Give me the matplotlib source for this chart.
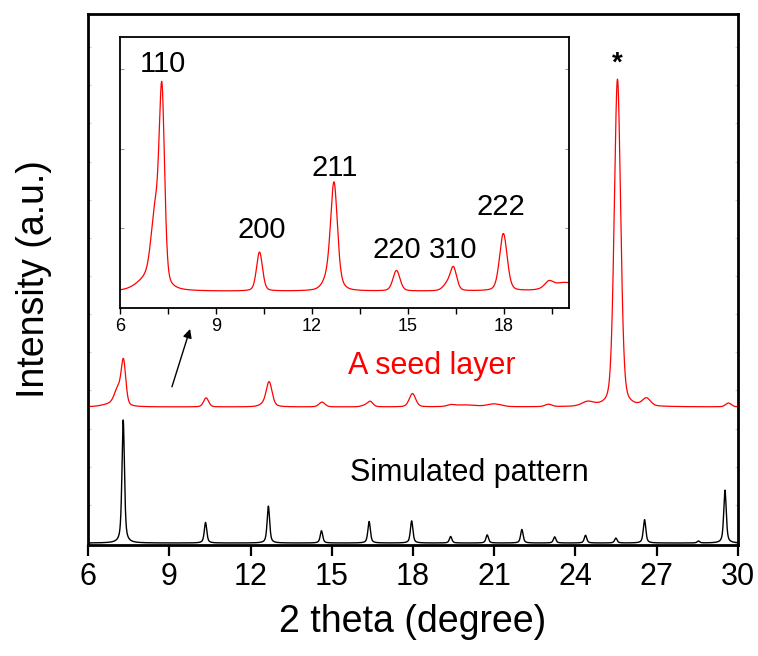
import numpy as np
import matplotlib
matplotlib.use("Agg")
import matplotlib.pyplot as plt
from matplotlib.ticker import MultipleLocator

plt.rcParams["font.family"] = ["Liberation Sans", "DejaVu Sans"]

# Simulated pattern: peak positions (2 theta) and relative intensities (110 = 100)
sim_pos = [7.30, 10.34, 12.66, 14.62, 16.38, 17.95, 19.39, 20.74, 22.02,
           23.23, 24.37, 25.49, 26.55, 28.54, 29.52]
sim_int = [100, 16.7, 30, 10, 17.5, 18, 5.3, 6.6, 11, 5, 6.3, 4, 19, 1.6, 43]
sim_fwhm = 0.11

# Seed layer pattern: peak positions, heights (110 = 100) and widths
seed_pos = [6.90, 7.10, 7.31, 10.36, 12.62, 12.69, 14.64, 16.22, 16.42,
            17.98, 19.40, 19.90, 21.00, 23.00, 24.45, 25.55, 26.62, 29.65]
seed_int = [6, 32, 90, 19, 10, 44, 10, 3, 11, 28, 3, 4, 6, 5, 9, 690, 16, 8]
seed_fwhm = [0.80, 0.30, 0.20, 0.22, 0.45, 0.24, 0.26, 0.30, 0.24,
             0.28, 0.30, 1.00, 0.60, 0.30, 0.50, 0.28, 0.35, 0.25]

# Miller indices labelled in the inset
hkl_labels = ["110", "200", "211", "220", "310", "222"]
hkl_pos = [7.35, 10.42, 12.71, 14.66, 16.41, 17.91]
hkl_y = [111, 30, 60, 20, 20, 41]


def pseudo_voigt(x, pos, height, fwhm, eta):
    d = (x - pos) / (fwhm / 2)
    lor = 1 / (1 + d ** 2)
    gau = np.exp(-np.log(2) * d ** 2)
    return height * (eta * lor + (1 - eta) * gau)


def pattern(x, positions, heights, widths, eta):
    if np.isscalar(widths):
        widths = [widths] * len(positions)
    y = np.zeros_like(x)
    for p, h, w in zip(positions, heights, widths):
        y += pseudo_voigt(x, p, h, w, eta)
    return y


tt = np.linspace(6, 30, 6001)
sim = pattern(tt, sim_pos, sim_int, sim_fwhm, 0.6) * 0.01
seed = pattern(tt, seed_pos, seed_int, seed_fwhm, 0.3)
seed_offset = 1.106
seed_scale = 0.00386

fig = plt.figure(figsize=(7.58, 6.56), dpi=100)
ax = fig.add_axes([0.1161, 0.1692, 0.8575, 0.8095])

ax.plot(tt, sim, color="black", lw=1.0)
ax.plot(tt, seed_offset + seed * seed_scale, color="red", lw=0.9)

ax.set_xlim(6, 30)
ax.set_ylim(-0.016, 4.30)
ax.xaxis.set_major_locator(MultipleLocator(3))
ax.yaxis.set_major_locator(MultipleLocator(0.31))
ax.tick_params(axis="x", direction="out", length=8, width=1.6,
               labelsize=22, pad=4, top=False)
ax.tick_params(axis="y", direction="in", length=2.5, width=0.8,
               colors="0.8", left=True, right=True, labelleft=False)
for s in ax.spines.values():
    s.set_linewidth(2.0)
ax.set_xlabel("2 theta (degree)", fontsize=27, labelpad=9)
ax.set_ylabel("Intensity (a.u.)", fontsize=27, labelpad=26)

ax.text(18.7, 1.44, "A seed layer", color="red", fontsize=22,
        ha="center", va="center")
ax.text(20.1, 0.57, "Simulated pattern", color="black", fontsize=22,
        ha="center", va="center")
ax.text(25.55, 3.90, "*", fontsize=20, fontweight="bold",
        ha="center", va="center")
ax.annotate("", xy=(9.77, 1.74), xytext=(9.10, 1.27),
            arrowprops=dict(arrowstyle="-|>", color="black", lw=1.0,
                            mutation_scale=13, shrinkA=0, shrinkB=0))

# Inset: low-angle region of the seed layer
ins = fig.add_axes([0.1583, 0.5305, 0.5923, 0.4131])
ins.plot(tt, seed, color="red", lw=0.9)
ins.set_xlim(6, 20.03)
ins.set_ylim(-8.1, 124)
ins.xaxis.set_major_locator(MultipleLocator(3))
ins.xaxis.set_minor_locator(MultipleLocator(1.5))
ins.set_yticks([30.8, 69.6, 108.5])
ins.tick_params(axis="x", which="both", direction="out", length=4,
                width=1.0, labelsize=13, pad=3)
ins.tick_params(axis="y", direction="in", length=3, width=0.8,
                colors="0.6", left=True, right=True, labelleft=False)
for s in ins.spines.values():
    s.set_linewidth(1.3)
for lab, xp, yp in zip(hkl_labels, hkl_pos, hkl_y):
    ins.text(xp, yp, lab, fontsize=21, ha="center", va="center")

fig.savefig("out.png", dpi=100)
